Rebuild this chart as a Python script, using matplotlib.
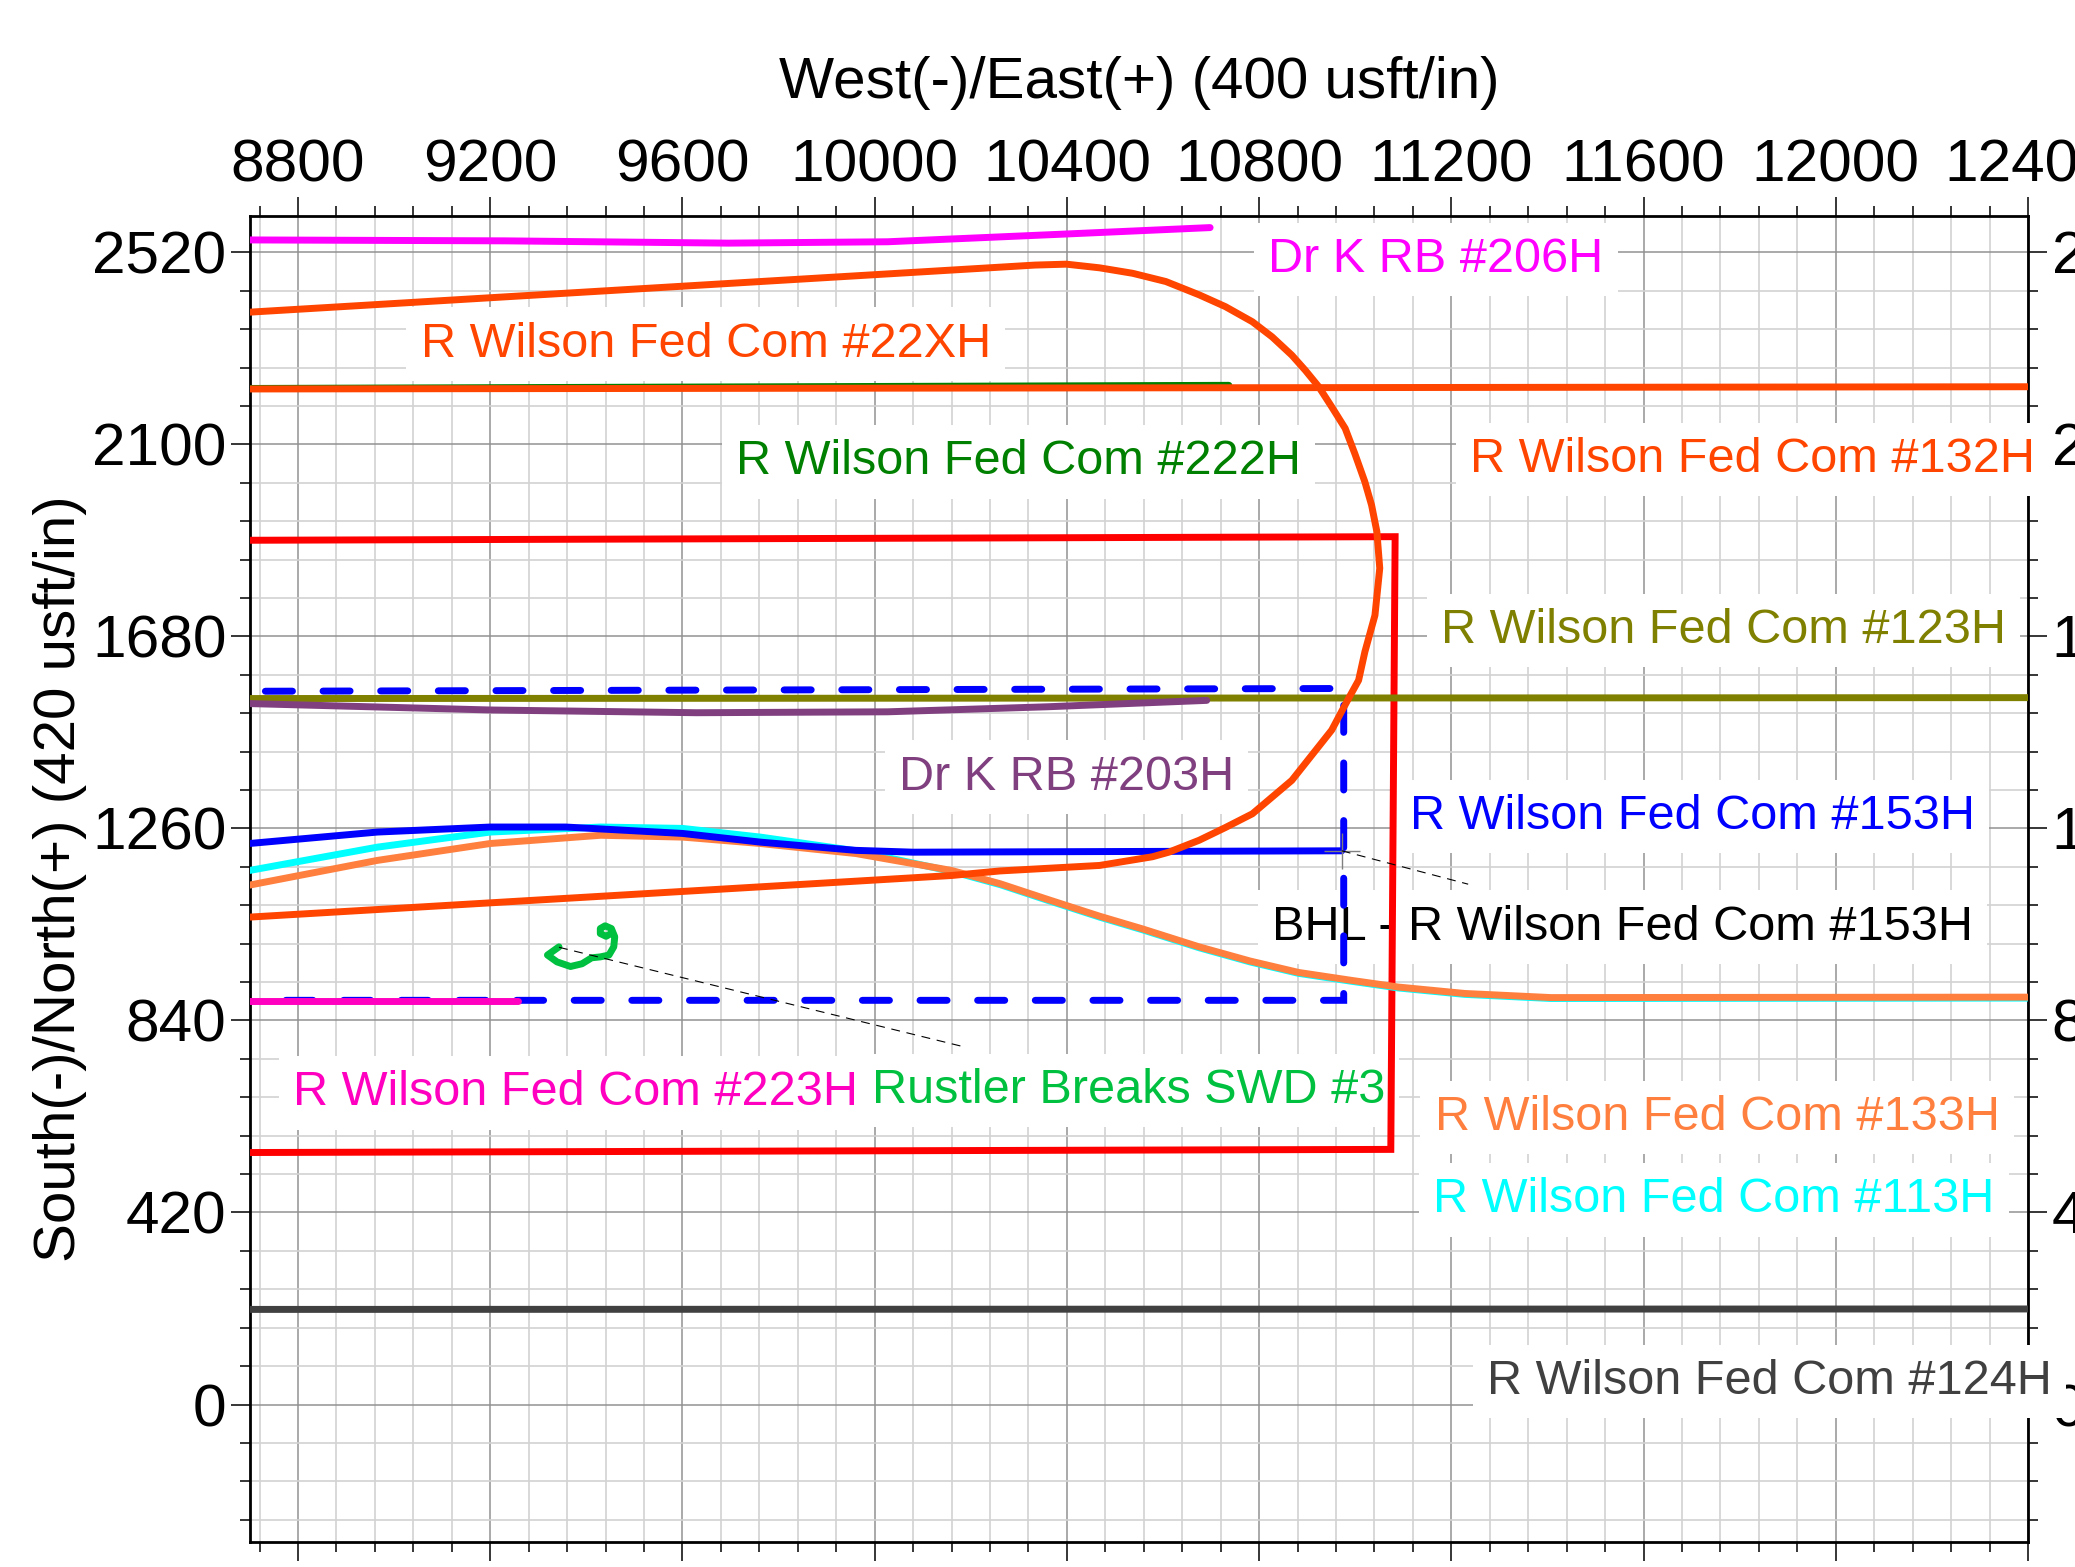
import matplotlib
matplotlib.use("Agg")
import matplotlib.pyplot as plt
from matplotlib.ticker import MultipleLocator

plt.rcParams['font.family'] = ['Liberation Sans', 'DejaVu Sans']

# ---------------- data (East usft, North usft) ----------------
drk206_e = [8650, 8699, 9230, 9695, 10027, 10399, 10698]
drk206_n = [2547, 2547, 2545, 2540, 2543, 2560, 2574]

wil22x_e = [8650, 8699, 10160, 10261, 10468, 10578, 10612, 10675, 10730, 10786, 10868,
            10951, 10986, 11007, 11020, 11041, 11051, 11045, 11034, 11020, 10999,
            10979, 10951, 10924, 10896, 10868, 10827, 10786, 10730, 10675, 10606,
            10537, 10468, 10399, 10333, 8699, 8650]
wil22x_n = [1063, 1066, 1157, 1167, 1179, 1198, 1208, 1234, 1262, 1292, 1365,
            1475, 1544, 1584, 1646, 1726, 1829, 1909, 1967, 2018, 2080,
            2135, 2182, 2226, 2262, 2295, 2335, 2368, 2401, 2427, 2456,
            2474, 2486, 2494, 2492, 2389, 2386]

wil132_e = [8650, 12450]
wil132_n = [2221, 2226]

wil222_e = [8650, 10737]
wil222_n = [2222, 2229]

lease_e = [8650, 11083, 11074, 8650]
lease_n = [1890, 1898, 558, 551]

setback_e = [8732, 10976, 10976, 8732]
setback_n = [1560, 1566, 884, 884]

wil123_e = [8650, 12450]
wil123_n = [1544, 1546]

drk203_e = [8650, 8699, 9200, 9629, 10027, 10359, 10691]
drk203_n = [1533, 1533, 1519, 1513, 1515, 1526, 1540]

wil153_e = [8690, 8699, 8965, 9200, 9357, 9600, 9762, 9961, 10080, 10972]
wil153_n = [1225, 1227, 1252, 1263, 1263, 1249, 1230, 1212, 1208, 1211]

wil113_e = [8699, 8965, 9200, 9430, 9600, 9762, 9961, 10160, 10261, 10359, 10468,
            10558, 10675, 10781, 10882, 10990, 11090, 11228, 11407, 12450]
wil113_n = [1168, 1219, 1252, 1263, 1260, 1241, 1211, 1166, 1137, 1103, 1066,
            1038, 999, 968, 943, 926, 911, 897, 888, 889]

wil133_e = [8699, 8965, 9200, 9430, 9600, 9762, 9961, 10160, 10261, 10359, 10468,
            10558, 10675, 10781, 10882, 10990, 11090, 11228, 11407, 12450]
wil133_n = [1136, 1190, 1227, 1245, 1241, 1227, 1205, 1168, 1139, 1105, 1068,
            1040, 1001, 970, 945, 928, 913, 899, 890, 891]

wil223_e = [8650, 9257]
wil223_n = [882, 882]

wil124_e = [8650, 12450]
wil124_n = [208, 209]

swd3_e = [9343, 9319, 9339, 9367, 9391, 9411, 9429, 9447, 9457, 9459, 9452, 9439,
          9429, 9429, 9441, 9451]
swd3_n = [1001, 983, 968, 958, 964, 977, 979, 983, 1001, 1023, 1041, 1047,
          1041, 1030, 1024, 1030]

bhl153_e = [10972]
bhl153_n = [1211]

leader_swd_e = [9343, 10187]
leader_swd_n = [1000, 782]
leader_bhl_e = [10972, 11235]
leader_bhl_n = [1211, 1138]

x_ticks = [8800, 9200, 9600, 10000, 10400, 10800, 11200, 11600, 12000, 12400]
y_ticks = [0, 420, 840, 1260, 1680, 2100, 2520]

labels = ["Dr K RB #206H", "R Wilson Fed Com #22XH", "R Wilson Fed Com #222H",
          "R Wilson Fed Com #132H", "R Wilson Fed Com #123H", "Dr K RB #203H",
          "R Wilson Fed Com #153H", "BHL - R Wilson Fed Com #153H",
          "R Wilson Fed Com #223H", "Rustler Breaks SWD #3",
          "R Wilson Fed Com #133H", "R Wilson Fed Com #113H",
          "R Wilson Fed Com #124H"]
label_e = [10819, 9055, 9711, 11239, 11179, 10050, 11114, 10827, 8790, 9994,
           11165, 11162, 11274]
label_n = [2476, 2292, 2034, 2040, 1665, 1345, 1258, 1017, 654, 659, 600, 420, 23]
label_colors = ['#FF00FF', '#FF4500', '#008000', '#FF4500', '#808000', '#804080',
                '#0000FF', '#000000', '#FF00C0', '#00C040', '#FF7F3F', '#00FFFF',
                '#404040']

# ---------------- figure ----------------
fig = plt.figure(figsize=(20.75, 15.67), dpi=100)
ax = fig.add_axes([250 / 2075, 1 - 1541.7 / 1567, 1778 / 2075, 1326 / 1567])
ax.set_xlim(8700, 12400)
ax.set_ylim(-300, 2600)

ax.xaxis.set_major_locator(MultipleLocator(400))
ax.xaxis.set_minor_locator(MultipleLocator(80))
ax.yaxis.set_major_locator(MultipleLocator(420))
ax.yaxis.set_minor_locator(MultipleLocator(84))
ax.set_xticks(x_ticks)
ax.set_yticks(y_ticks)
ax.set_axisbelow(True)
ax.grid(which='major', color='#929292', linewidth=1.1)
ax.grid(which='minor', color='#d2d2d2', linewidth=1.2)

ax.tick_params(which='both', direction='out', top=True, bottom=True, left=True,
               right=True, labeltop=True, labelbottom=False, labelleft=True,
               labelright=True, labelsize=43.5, width=1.1)
ax.tick_params(which='major', length=14)
ax.tick_params(which='minor', length=7)
ax.tick_params(axis='x', pad=2)
ax.tick_params(axis='y', pad=3)
for s in ax.spines.values():
    s.set_linewidth(2.0)
    s.set_zorder(2.5)

ax.xaxis.set_label_position('top')
ax.set_xlabel('West(-)/East(+) (400 usft/in)', fontsize=42)
ax.xaxis.set_label_coords(0.5, 1 + 117.4 / 1326)
ax.xaxis.label.set_va('baseline')
ax.set_ylabel('South(-)/North(+) (420 usft/in)', fontsize=42)
ax.yaxis.set_label_coords(-175 / 1778, 0.5)
ax.yaxis.label.set_va('baseline')

lw = 5.0
common = dict(solid_capstyle='round', solid_joinstyle='round')
ax.plot(lease_e, lease_n, color='#FF0000', lw=lw, zorder=3, solid_joinstyle='miter')
ax.plot(setback_e, setback_n, color='#0000FF', lw=5.0, zorder=3.1,
        linestyle=(0, (3.9, 4.4)), dash_capstyle='round', dash_joinstyle='miter')
ax.plot(wil124_e, wil124_n, color='#404040', lw=lw, zorder=3.2, **common)
ax.plot(wil222_e, wil222_n, color='#008000', lw=lw, zorder=3.2, **common)
ax.plot(wil132_e, wil132_n, color='#FF4500', lw=lw, zorder=3.3, **common)
ax.plot(wil123_e, wil123_n, color='#808000', lw=lw, zorder=3.4, **common)
ax.plot(drk203_e, drk203_n, color='#804080', lw=lw, zorder=3.5, **common)
ax.plot(drk206_e, drk206_n, color='#FF00FF', lw=lw, zorder=3.5, **common)
ax.plot(wil113_e, wil113_n, color='#00FFFF', lw=lw, zorder=3.6, **common)
ax.plot(wil133_e, wil133_n, color='#FF7F3F', lw=lw, zorder=3.7, **common)
ax.plot(wil153_e, wil153_n, color='#0000FF', lw=lw, zorder=3.8, **common)
ax.plot(wil22x_e, wil22x_n, color='#FF4500', lw=lw, zorder=3.9, **common)
ax.plot(wil223_e, wil223_n, color='#FF00C0', lw=lw, zorder=4.0, **common)
ax.plot(swd3_e, swd3_n, color='#00C040', lw=lw, zorder=4.0, **common)

ax.plot(bhl153_e, bhl153_n, marker='+', markersize=26, markeredgewidth=1.0,
        color='#808080', linestyle='none', zorder=4.1)
ax.plot(leader_swd_e, leader_swd_n, color='black', lw=0.8,
        linestyle=(0, (8, 6)), zorder=4.2)
ax.plot(leader_bhl_e, leader_bhl_n, color='black', lw=0.8,
        linestyle=(0, (8, 6)), zorder=4.2)

for t, x, y, c in zip(labels, label_e, label_n, label_colors):
    ax.text(x, y, t, color=c, fontsize=35, ha='left', va='baseline', zorder=2.7,
            bbox=dict(facecolor='white', edgecolor='none', pad=10))

fig.savefig('out.png', dpi=100)
